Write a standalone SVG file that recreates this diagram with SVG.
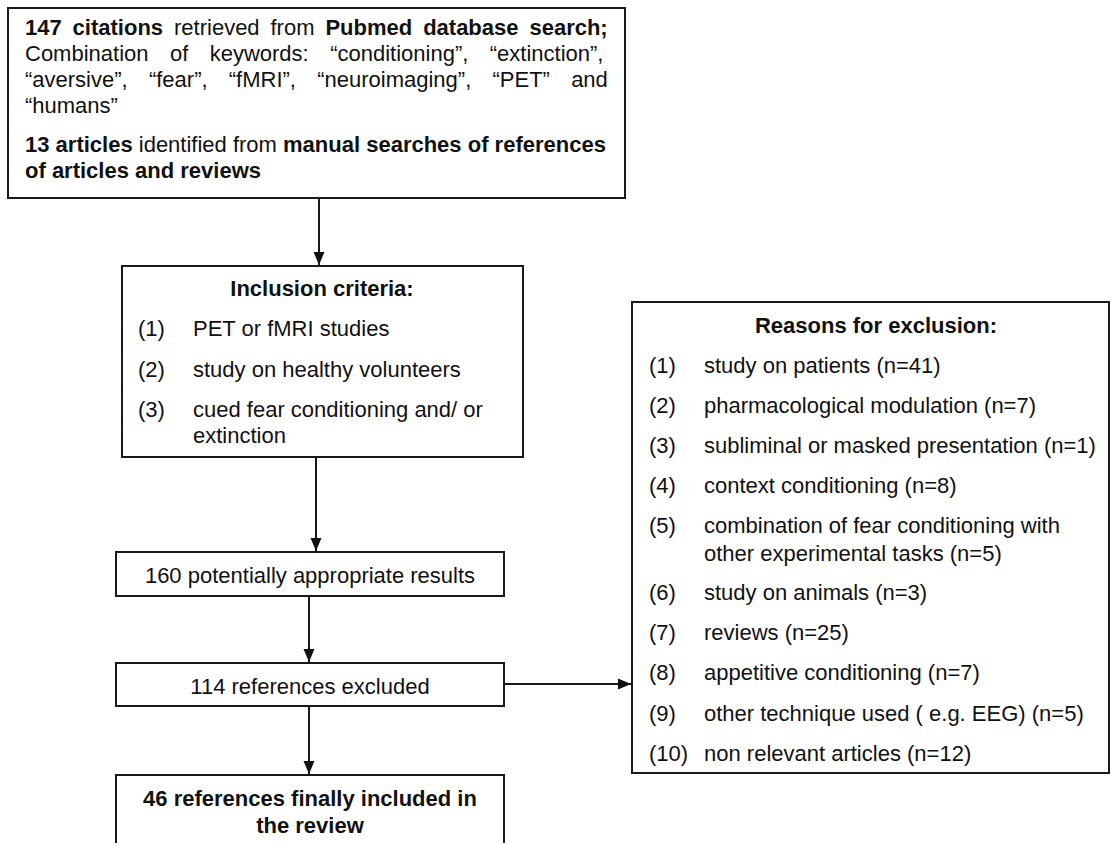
<svg xmlns="http://www.w3.org/2000/svg" width="1111" height="843" viewBox="0 0 1111 843">
<style>
.box{fill:#fff;stroke:#1a1a1a;stroke-width:2}
.t{font-family:"Liberation Sans",Arial,sans-serif;font-size:22px;fill:#111}
.b{font-weight:bold}
.c{text-anchor:middle}
.ln{stroke:#1a1a1a;stroke-width:2;fill:none}
</style>
<defs>
<marker id="ah" markerWidth="14" markerHeight="12" refX="13" refY="6" orient="auto" markerUnits="userSpaceOnUse">
<path d="M0,0.5 L13,6 L0,11.5 z" fill="#111"/>
</marker>
</defs>
<rect width="1111" height="843" fill="#fff"/>
<g id="connectors">
<line class="ln" x1="319" y1="198" x2="319" y2="265" marker-end="url(#ah)"/>
<line class="ln" x1="316" y1="457" x2="316" y2="551" marker-end="url(#ah)"/>
<line class="ln" x1="309" y1="596" x2="309" y2="662" marker-end="url(#ah)"/>
<line class="ln" x1="309" y1="706" x2="309" y2="774" marker-end="url(#ah)"/>
<line class="ln" x1="504" y1="684" x2="631" y2="684" marker-end="url(#ah)"/>
</g>
<g id="search">
<rect class="box" x="8" y="8" width="617" height="190"/>
<text class="t" x="25" y="35" word-spacing="4.8"><tspan class="b">147 citations</tspan> retrieved from <tspan class="b">Pubmed database search;</tspan></text>
<text class="t" x="25" y="61" word-spacing="15.3">Combination of keywords: “conditioning”, “extinction”,</text>
<text class="t" x="25" y="87" word-spacing="15.1">“aversive”, “fear”, “fMRI”, “neuroimaging”, “PET” and</text>
<text class="t" x="25" y="113">“humans”</text>
<text class="t" x="25" y="152"><tspan class="b">13 articles</tspan> identified from <tspan class="b">manual searches of references</tspan></text>
<text class="t b" x="25" y="178">of articles and reviews</text>
</g>
<g id="inclusion">
<rect class="box" x="122" y="266" width="401" height="191"/>
<text class="t b c" x="322" y="296">Inclusion criteria:</text>
<text class="t" x="138" y="336">(1)</text><text class="t" x="193" y="336">PET or fMRI studies</text>
<text class="t" x="138" y="377">(2)</text><text class="t" x="193" y="377">study on healthy volunteers</text>
<text class="t" x="138" y="417">(3)</text><text class="t" x="193" y="417">cued fear conditioning and/ or</text>
<text class="t" x="193" y="443">extinction</text>
</g>
<g id="potential">
<rect class="box" x="116" y="552" width="388" height="44"/>
<text class="t c" x="310" y="583">160 potentially appropriate results</text>
</g>
<g id="excluded">
<rect class="box" x="116" y="663" width="388" height="43"/>
<text class="t c" x="310" y="694">114 references excluded</text>
</g>
<g id="final">
<rect class="box" x="116" y="775" width="388" height="80"/>
<text class="t b c" x="310" y="806">46 references finally included in</text>
<text class="t b c" x="310" y="833">the review</text>
</g>
<g id="reasons">
<rect class="box" x="632" y="302" width="477" height="471"/>
<text class="t b c" x="876" y="333">Reasons for exclusion:</text>
<text class="t" x="649" y="373">(1)</text><text class="t" x="704" y="373">study on patients (n=41)</text>
<text class="t" x="649" y="413">(2)</text><text class="t" x="704" y="413">pharmacological modulation (n=7)</text>
<text class="t" x="649" y="453">(3)</text><text class="t" x="704" y="453">subliminal or masked presentation (n=1)</text>
<text class="t" x="649" y="493">(4)</text><text class="t" x="704" y="493">context conditioning (n=8)</text>
<text class="t" x="649" y="533">(5)</text><text class="t" x="704" y="533">combination of fear conditioning with</text>
<text class="t" x="704" y="561">other experimental tasks (n=5)</text>
<text class="t" x="649" y="600">(6)</text><text class="t" x="704" y="600">study on animals (n=3)</text>
<text class="t" x="649" y="640">(7)</text><text class="t" x="704" y="640">reviews (n=25)</text>
<text class="t" x="649" y="680">(8)</text><text class="t" x="704" y="680">appetitive conditioning (n=7)</text>
<text class="t" x="649" y="721">(9)</text><text class="t" x="704" y="721">other technique used ( e.g. EEG) (n=5)</text>
<text class="t" x="649" y="761">(10)</text><text class="t" x="704" y="761">non relevant articles (n=12)</text>
</g>
</svg>
